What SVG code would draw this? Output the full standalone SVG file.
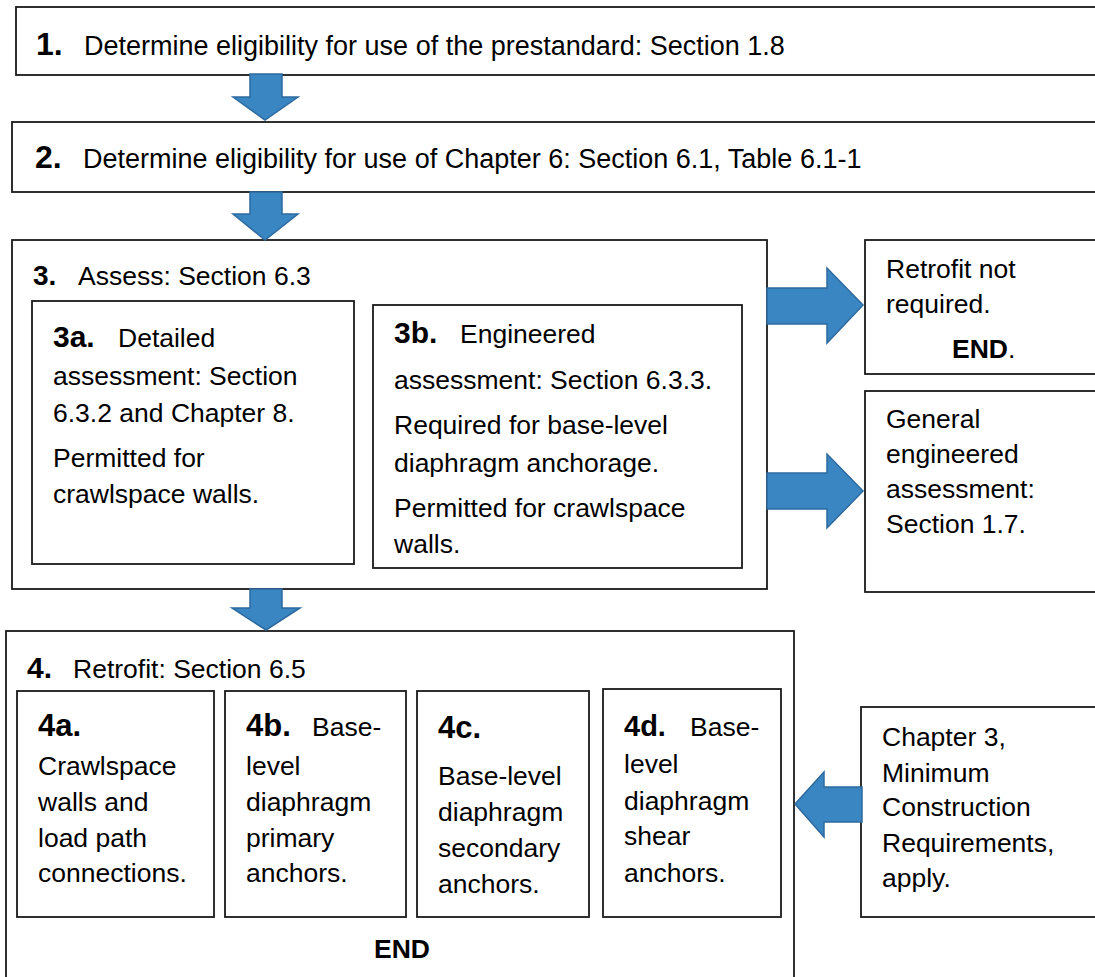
<svg xmlns="http://www.w3.org/2000/svg" width="1095" height="977" viewBox="0 0 1095 977">
<style>
.box{fill:#fff;stroke:#1a1a1a;stroke-width:1.8}
.t{font-family:"Liberation Sans",Arial,sans-serif;font-size:26.5px;fill:#000}
.h{font-family:"Liberation Sans",Arial,sans-serif;font-size:27px;fill:#000}
.b{font-family:"Liberation Sans",Arial,sans-serif;font-weight:bold;fill:#000}
.arr{fill:#3A86C2;stroke:#2D6A9F;stroke-width:1.5;stroke-linejoin:miter}
</style>
<rect width="1095" height="977" fill="#fff"/>
<g id="n1">
<rect class="box" x="16" y="7" width="1090" height="68"/>
<text class="b" x="36" y="55" font-size="32">1.</text>
<text class="h" x="84" y="55">Determine eligibility for use of the prestandard: Section 1.8</text>
</g>
<g id="n2">
<rect class="box" x="12" y="122" width="1094" height="70"/>
<text class="b" x="35" y="168" font-size="32">2.</text>
<text class="h" x="83" y="168">Determine eligibility for use of Chapter 6: Section 6.1, Table 6.1-1</text>
</g>
<g id="n3">
<rect class="box" x="12" y="240" width="755" height="349"/>
<text class="b" x="33" y="285" font-size="28">3.</text>
<text class="t" x="78" y="285">Assess: Section 6.3</text>
</g>
<g id="n3a">
<rect class="box" x="32" y="301" width="322" height="263"/>
<text class="b" x="53" y="347" font-size="30">3a.</text>
<text class="t" x="118" y="347">Detailed</text>
<text class="t" x="53" y="385">assessment: Section</text>
<text class="t" x="53" y="422">6.3.2 and Chapter 8.</text>
<text class="t" x="53" y="467">Permitted for</text>
<text class="t" x="53" y="503">crawlspace walls.</text>
</g>
<g id="n3b">
<rect class="box" x="373" y="305" width="369" height="263"/>
<text class="b" x="394" y="343" font-size="30">3b.</text>
<text class="t" x="460" y="343">Engineered</text>
<text class="t" x="394" y="389">assessment: Section 6.3.3.</text>
<text class="t" x="394" y="434">Required for base-level</text>
<text class="t" x="394" y="472">diaphragm anchorage.</text>
<text class="t" x="394" y="517">Permitted for crawlspace</text>
<text class="t" x="394" y="553">walls.</text>
</g>
<g id="nNotRequired">
<rect class="box" x="865" y="240" width="240" height="134"/>
<text class="t" x="886" y="278">Retrofit not</text>
<text class="t" x="886" y="313">required.</text>
<text class="t" x="952" y="358"><tspan font-weight="bold">END</tspan>.</text>
</g>
<g id="nGeneral">
<rect class="box" x="865" y="391" width="240" height="201"/>
<text class="t" x="886" y="428">General</text>
<text class="t" x="886" y="463">engineered</text>
<text class="t" x="886" y="498">assessment:</text>
<text class="t" x="886" y="533">Section 1.7.</text>
</g>
<g id="n4">
<rect class="box" x="6" y="631" width="788" height="360"/>
<text class="b" x="27" y="678" font-size="30">4.</text>
<text class="t" x="73" y="678">Retrofit: Section 6.5</text>
<text class="b" x="374" y="958" font-size="26.5">END</text>
</g>
<g id="n4a">
<rect class="box" x="17" y="691" width="197" height="226"/>
<text class="b" x="38" y="736" font-size="31">4a.</text>
<text class="t" x="38" y="775">Crawlspace</text>
<text class="t" x="38" y="811">walls and</text>
<text class="t" x="38" y="847">load path</text>
<text class="t" x="38" y="882">connections.</text>
</g>
<g id="n4b">
<rect class="box" x="225" y="691" width="181" height="226"/>
<text class="b" x="246" y="736" font-size="31">4b.</text>
<text class="t" x="312" y="736">Base-</text>
<text class="t" x="246" y="775">level</text>
<text class="t" x="246" y="811">diaphragm</text>
<text class="t" x="246" y="847">primary</text>
<text class="t" x="246" y="882">anchors.</text>
</g>
<g id="n4c">
<rect class="box" x="417" y="691" width="172" height="226"/>
<text class="b" x="438" y="738" font-size="31">4c.</text>
<text class="t" x="438" y="785">Base-level</text>
<text class="t" x="438" y="821">diaphragm</text>
<text class="t" x="438" y="857">secondary</text>
<text class="t" x="438" y="893">anchors.</text>
</g>
<g id="n4d">
<rect class="box" x="603" y="689" width="178" height="228"/>
<text class="b" x="624" y="736" font-size="29">4d.</text>
<text class="t" x="690" y="736">Base-</text>
<text class="t" x="624" y="773">level</text>
<text class="t" x="624" y="810">diaphragm</text>
<text class="t" x="624" y="845">shear</text>
<text class="t" x="624" y="882">anchors.</text>
</g>
<g id="nChapter3">
<rect class="box" x="861" y="707" width="244" height="210"/>
<text class="t" x="882" y="746">Chapter 3,</text>
<text class="t" x="882" y="782">Minimum</text>
<text class="t" x="882" y="816">Construction</text>
<text class="t" x="882" y="852">Requirements,</text>
<text class="t" x="882" y="887">apply.</text>
</g>
<g id="connectors">
<polygon class="arr" points="250,74 282,74 282,97 298,97 265,120 233,97 250,97"/>
<polygon class="arr" points="250,192 282,192 282,214 298,214 265,240 233,214 250,214"/>
<polygon class="arr" points="250,589 282,589 282,608 300,608 266,630 232,608 250,608"/>
<polygon class="arr" points="767,288 827,288 827,268 863,305 827,343 827,324 767,324"/>
<polygon class="arr" points="767,473 827,473 827,454 863,491 827,528 827,509 767,509"/>
<polygon class="arr" points="862,787 824,787 824,772 795,804 824,837 824,822 862,822"/>
</g>
</svg>
